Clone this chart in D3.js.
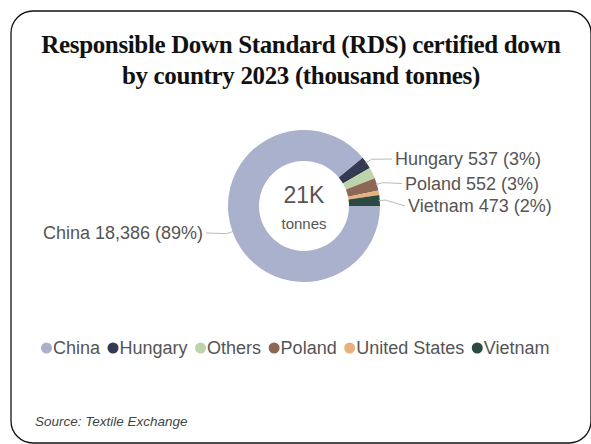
<!DOCTYPE html>
<html>
<head>
<meta charset="utf-8">
<script src="https://cdn.jsdelivr.net/npm/d3@7"></script>
<style>
  body { margin: 0; background: #fff; }
  svg { display: block; }
</style>
</head>
<body>
<svg id="donut" width="591" height="444"></svg>
<script>
// data
var countries = ["China", "Hungary", "Others", "Poland", "United States", "Vietnam"];
var tonnes = [18386, 537, 500, 552, 200, 473];
var colors = ["#a9b1cd", "#333a52", "#bdd4ab", "#8c6756", "#e8b07c", "#2b4a44"];
var labelled = ["China", "Hungary", "Poland", "Vietnam"];

(function donutChart() {
    var svg = d3.select("#donut");

    // card
    svg.append("rect")
        .attr("x", 11).attr("y", 11)
        .attr("width", 580).attr("height", 432)
        .attr("rx", 22)
        .attr("fill", "#fff")
        .attr("stroke", "#111")
        .attr("stroke-width", 1.3);

    // title
    var title = svg.append("text")
        .attr("text-anchor", "middle")
        .style("font-family", "'Liberation Serif', serif")
        .style("font-weight", "bold")
        .style("font-size", "25px")
        .style("letter-spacing", "-0.35px")
        .attr("fill", "#111");
    title.append("tspan").attr("x", 301).attr("y", 53).text("Responsible Down Standard (RDS) certified down");
    title.append("tspan").attr("x", 301).attr("y", 84).text("by country 2023 (thousand tonnes)");

    var data = countries.map(function (c, i) {
        return { name: c, value: tonnes[i] };
    });
    var total = d3.sum(tonnes);

    var color = d3.scaleOrdinal().domain(countries).range(colors);

    var cx = 304, cy = 206, outer = 76, inner = 45;

    var pie = d3.pie()
        .sort(null)
        .value(function (d) { return d.value; })
        .startAngle(Math.PI / 2)
        .endAngle(Math.PI / 2 + 2 * Math.PI);

    var arc = d3.arc().innerRadius(inner).outerRadius(outer);

    var g = svg.append("g")
        .attr("transform", "translate(" + cx + "," + cy + ")");

    var arcs = pie(data);

    g.selectAll("path.slice")
        .data(arcs)
        .enter().append("path")
        .attr("class", "slice")
        .attr("d", arc)
        .attr("fill", function (d) { return color(d.data.name); });

    // centre text
    g.append("text")
        .attr("text-anchor", "middle")
        .attr("y", -3)
        .style("font-family", "'Liberation Sans', Arial, sans-serif")
        .style("font-size", "23px")
        .attr("fill", "#555")
        .text(d3.format(".2~s")(total).replace("k", "K"));
    g.append("text")
        .attr("text-anchor", "middle")
        .attr("y", 23)
        .style("font-family", "'Liberation Sans', Arial, sans-serif")
        .style("font-size", "15px")
        .attr("fill", "#555")
        .text("tonnes");

    // data labels with leader lines
    var labelPos = {
        "China":   { tx: -101, ty: 27 },
        "Hungary": { tx: 91, ty: -47 },
        "Poland":  { tx: 101, ty: -22.5 },
        "Vietnam": { tx: 104, ty: 0 }
    };
    var fmt = d3.format(",");
    var lab = g.selectAll("g.lab")
        .data(arcs.filter(function (d) { return labelled.indexOf(d.data.name) >= 0; }))
        .enter().append("g").attr("class", "lab");

    lab.append("path")
        .attr("fill", "none")
        .attr("stroke", "#bbb")
        .attr("stroke-width", 1)
        .attr("d", function (d) {
            var a = (d.startAngle + d.endAngle) / 2 - Math.PI / 2;
            var p0 = [Math.cos(a) * (outer - 1), Math.sin(a) * (outer - 1)];
            var p = labelPos[d.data.name];
            var p1 = [Math.cos(a) * (outer + 6), Math.sin(a) * (outer + 6)];
            return "M" + p0 + "L" + p1 + "L" + [p.tx + (p.tx > 0 ? -3 : 3), p.ty];
        });

    lab.append("text")
        .attr("x", function (d) { return labelPos[d.data.name].tx; })
        .attr("y", function (d) { return labelPos[d.data.name].ty; })
        .attr("dy", "0.35em")
        .attr("text-anchor", function (d) { return labelPos[d.data.name].tx > 0 ? "start" : "end"; })
        .style("font-family", "'Liberation Sans', Arial, sans-serif")
        .style("font-size", "18px")
        .attr("fill", "#555")
        .text(function (d) {
            return d.data.name + " " + fmt(d.data.value) + " (" + Math.round(d.data.value / total * 100) + "%)";
        });

    // legend
    var legend = svg.append("g").attr("transform", "translate(41,348)");
    var lx = 0;
    countries.forEach(function (c) {
        var item = legend.append("g").attr("transform", "translate(" + lx + ",0)");
        item.append("circle").attr("cx", 5.5).attr("cy", 0).attr("r", 5.5).attr("fill", color(c));
        var t = item.append("text")
            .attr("x", 12).attr("dy", "0.35em")
            .style("font-family", "'Liberation Sans', Arial, sans-serif")
            .style("font-size", "18px")
            .attr("fill", "#555")
            .text(c);
        lx += 12 + t.node().getComputedTextLength() + 7.5;
    });

    // source
    svg.append("text")
        .attr("x", 35).attr("y", 426)
        .style("font-family", "'Liberation Sans', Arial, sans-serif")
        .style("font-size", "13.5px")
        .style("font-style", "italic")
        .attr("fill", "#444")
        .text("Source: Textile Exchange");
}());
</script>
</body>
</html>
